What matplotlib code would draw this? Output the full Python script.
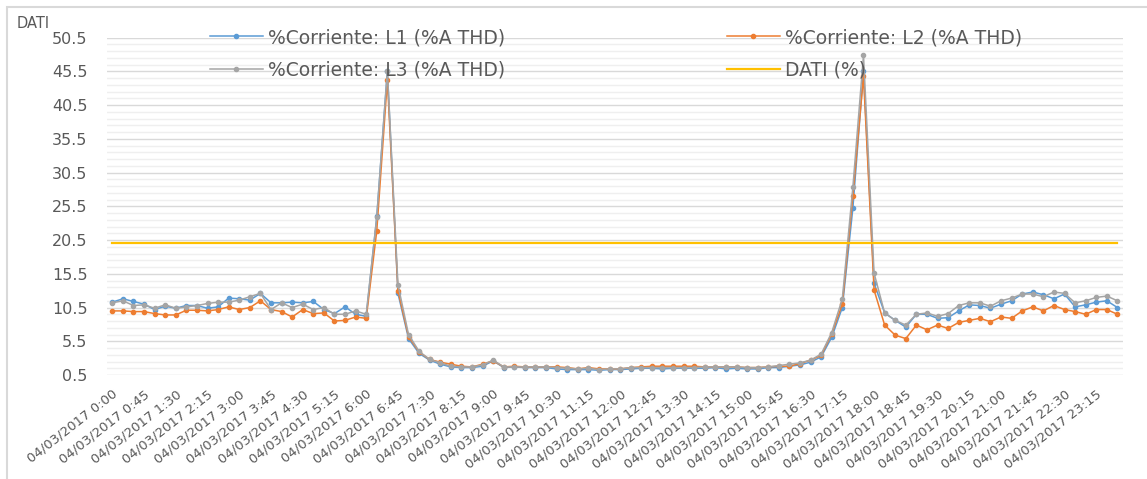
import matplotlib
matplotlib.use("Agg")
import matplotlib.pyplot as plt
import numpy as np
from matplotlib.ticker import FixedLocator, NullFormatter
from matplotlib.patches import Rectangle

plt.rcParams['font.family'] = ['DejaVu Sans']

# 96 quarter-hour categories of 04/03/2017
categories = ["04/03/2017 %d:%02d" % (h, m) for h in range(24) for m in (0, 15, 30, 45)]
tick_labels = categories[::3]

l1 = [11.3, 11.8, 11.4, 11.0, 10.2, 10.7, 10.4, 10.8, 10.8, 10.4, 10.6, 11.9,
      11.8, 11.6, 12.6, 11.2, 11.2, 11.3, 11.2, 11.4, 10.2, 9.6, 10.6, 9.5,
      9.2, 24.0, 45.6, 12.6, 5.9, 3.7, 2.7, 2.1, 1.7, 1.6, 1.6, 1.8,
      2.6, 1.6, 1.7, 1.6, 1.6, 1.6, 1.4, 1.3, 1.3, 1.3, 1.2, 1.3,
      1.3, 1.4, 1.5, 1.5, 1.4, 1.5, 1.5, 1.5, 1.5, 1.6, 1.4, 1.5,
      1.4, 1.4, 1.6, 1.6, 1.8, 2.0, 2.4, 3.2, 6.1, 10.5, 25.3, 45.5,
      14.1, 9.7, 8.6, 7.6, 9.5, 9.5, 8.9, 9.0, 10.0, 10.9, 10.8, 10.4,
      11.0, 11.5, 12.5, 12.8, 12.4, 11.8, 12.5, 10.6, 10.9, 11.3, 11.5, 10.5]

l2 = [10.0, 10.0, 9.9, 9.9, 9.6, 9.4, 9.4, 10.1, 10.1, 10.0, 10.2, 10.6,
      10.2, 10.5, 11.5, 10.2, 9.9, 9.1, 10.2, 9.6, 9.7, 8.5, 8.6, 9.1,
      8.9, 21.9, 44.2, 13.0, 6.2, 3.9, 2.8, 2.4, 2.1, 1.8, 1.7, 2.1,
      2.6, 1.7, 1.8, 1.7, 1.7, 1.7, 1.7, 1.6, 1.4, 1.6, 1.4, 1.4,
      1.4, 1.6, 1.7, 1.8, 1.8, 1.8, 1.8, 1.8, 1.7, 1.7, 1.7, 1.7,
      1.6, 1.6, 1.7, 1.8, 1.8, 2.2, 2.7, 3.4, 6.6, 11.0, 27.1, 44.8,
      13.1, 7.9, 6.4, 5.9, 7.9, 7.2, 7.9, 7.4, 8.3, 8.6, 8.9, 8.4,
      9.1, 8.9, 10.0, 10.6, 10.0, 10.8, 10.2, 9.9, 9.5, 10.2, 10.2, 9.5]

l3 = [11.2, 11.5, 10.8, 10.9, 10.4, 10.9, 10.4, 10.6, 10.8, 11.1, 11.3, 11.3,
      11.6, 12.1, 12.6, 10.2, 11.2, 10.5, 11.0, 10.2, 10.5, 9.5, 9.5, 10.0,
      9.5, 23.9, 45.6, 13.9, 6.5, 4.0, 2.8, 2.3, 1.8, 1.7, 1.7, 2.0,
      2.7, 1.7, 1.7, 1.7, 1.7, 1.7, 1.6, 1.5, 1.4, 1.5, 1.3, 1.4,
      1.4, 1.6, 1.6, 1.6, 1.6, 1.6, 1.6, 1.6, 1.7, 1.7, 1.7, 1.7,
      1.6, 1.6, 1.7, 1.9, 2.1, 2.3, 2.7, 3.6, 6.8, 11.8, 28.4, 47.9,
      15.6, 9.7, 8.6, 7.9, 9.5, 9.7, 9.2, 9.6, 10.8, 11.2, 11.2, 10.7,
      11.5, 11.9, 12.5, 12.5, 12.1, 12.8, 12.6, 11.2, 11.5, 12.0, 12.2, 11.5]

dati_limit = 20.0

series_names = ["%Corriente: L1 (%A THD)", "%Corriente: L2 (%A THD)",
                "%Corriente: L3 (%A THD)", "DATI (%)"]
colors = ["#5B9BD5", "#ED7D31", "#A5A5A5", "#FFC000"]
text_color = "#595959"

W, H = 1147, 479
fig = plt.figure(figsize=(W / 100, H / 100), dpi=100)

def fx(px):
    return px / W

def fy(py):
    return 1 - py / H

# chart border
fig.patches.append(Rectangle((fx(7), fy(700)), fx(1200), fy(7) - fy(700),
                             transform=fig.transFigure, fill=False,
                             edgecolor="#D9D9D9", lw=1.5))

ax = fig.add_axes([fx(107), fy(375), fx(1122.7) - fx(107), fy(37.7) - fy(375)])
x = np.arange(len(categories))

h1, = ax.plot(x, l1, color=colors[0], lw=1.1, marker='o', ms=3, zorder=3)
h2, = ax.plot(x, l2, color=colors[1], lw=1.1, marker='o', ms=3, zorder=3)
h3, = ax.plot(x, l3, color=colors[2], lw=1.1, marker='o', ms=3, zorder=4)
h4, = ax.plot(x, [dati_limit] * len(x), color=colors[3], lw=1.6, zorder=5)

ax.set_xlim(-0.5, len(x) - 0.5)
ax.set_ylim(0.5, 50.5)
major = np.arange(0.5, 50.6, 5)
minor = [v for v in np.arange(0.5, 50.6, 1) if v not in major]
ax.yaxis.set_major_locator(FixedLocator(major))
ax.yaxis.set_minor_locator(FixedLocator(minor))
ax.yaxis.set_minor_formatter(NullFormatter())
ax.set_yticklabels(["%.1f" % v for v in major])
ax.grid(axis='y', which='major', color="#D9D9D9", lw=1.0, zorder=0)
ax.grid(axis='y', which='minor', color="#EFEFEF", lw=1.0, zorder=0)
ax.tick_params(axis='y', which='both', length=0, pad=14, labelsize=11.5,
               labelcolor=text_color)

ax.set_xticks(x[::3])
ax.set_xticklabels(tick_labels, rotation=38, ha='right', va='top',
                   rotation_mode='anchor')
ax.tick_params(axis='x', length=0, pad=9, labelsize=9.5, labelcolor=text_color)
for s in ax.spines.values():
    s.set_visible(False)

fig.text(fx(17), fy(23), "DATI", fontsize=10.5, color=text_color,
         ha='left', va='center')

leg_kw = dict(frameon=False, fontsize=13.5, handlelength=2.8, handletextpad=0.3,
              labelspacing=0.7, borderpad=0, borderaxespad=0, loc='upper left',
              labelcolor=text_color, numpoints=1)
leg1 = fig.legend([h1, h3], [series_names[0], series_names[2]],
                  bbox_to_anchor=(fx(210), fy(28)), **leg_kw)
leg2 = fig.legend([h2, h4], [series_names[1], series_names[3]],
                  bbox_to_anchor=(fx(727), fy(28)), **leg_kw)

fig.savefig("out.png", dpi=100)
